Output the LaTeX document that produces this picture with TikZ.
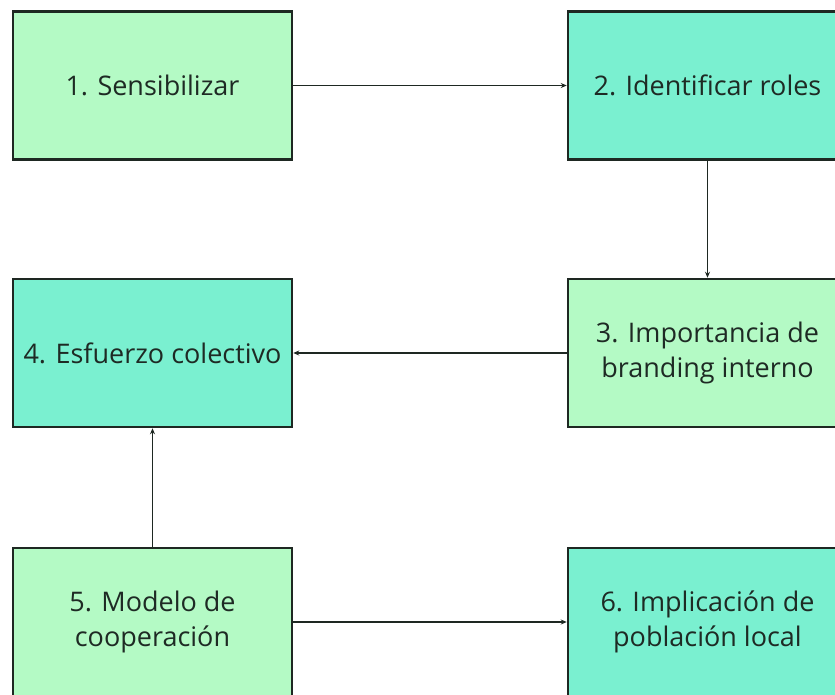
\documentclass[tikz,border=0pt]{standalone}
\usepackage{fontspec}
\setmainfont{Open Sans}
\usepackage{xcolor}
\usetikzlibrary{arrows.meta}
\definecolor{verdeclaro}{RGB}{180,250,197}
\definecolor{turquesa}{RGB}{122,240,208}
\definecolor{borde}{RGB}{30,40,34}
\definecolor{texto}{RGB}{30,42,36}

\begin{document}
\begin{tikzpicture}[x=1pt,y=-1pt,
        caja/.style={draw=borde,line width=2.5pt,minimum width=279pt,minimum height=148pt,
            align=center,text=texto,font=\fontsize{27}{35.5}\selectfont,inner sep=0pt},
        cajaclara/.style={caja,fill=verdeclaro},
        cajaturq/.style={caja,fill=turquesa},
        flecha/.style={draw=borde,line width=1.4pt,-{Stealth[length=6pt,width=5pt]}}]
        \useasboundingbox (0,0) rectangle (835,694);
        \clip (0,0) rectangle (835,694);
        \fill[white] (0,0) rectangle (835,694);
        
        \node[cajaclara] (paso1) at (152.5,85.5) {1. Sensibilizar};
        \node[cajaturq] (paso2) at (707.5,85.5) {2. Identificar roles};
        \node[cajaclara] (paso3) at (707.5,353) {3. Importancia de\\branding interno};
        \node[cajaturq] (paso4) at (152.5,353) {4. Esfuerzo colectivo};
        \node[cajaclara] (paso5) at (152.5,622) {5. Modelo de\\cooperación};
        \node[cajaturq] (paso6) at (707.5,622) {6. Implicación de\\población local};
        
        \draw[flecha] (paso1) -- (paso2);
        \draw[flecha] (paso2) -- (paso3);
        \draw[flecha] (paso3) -- (paso4);
        \draw[flecha] (paso5) -- (paso4);
        \draw[flecha] (paso5) -- (paso6);
    \end{tikzpicture}
\end{document}
